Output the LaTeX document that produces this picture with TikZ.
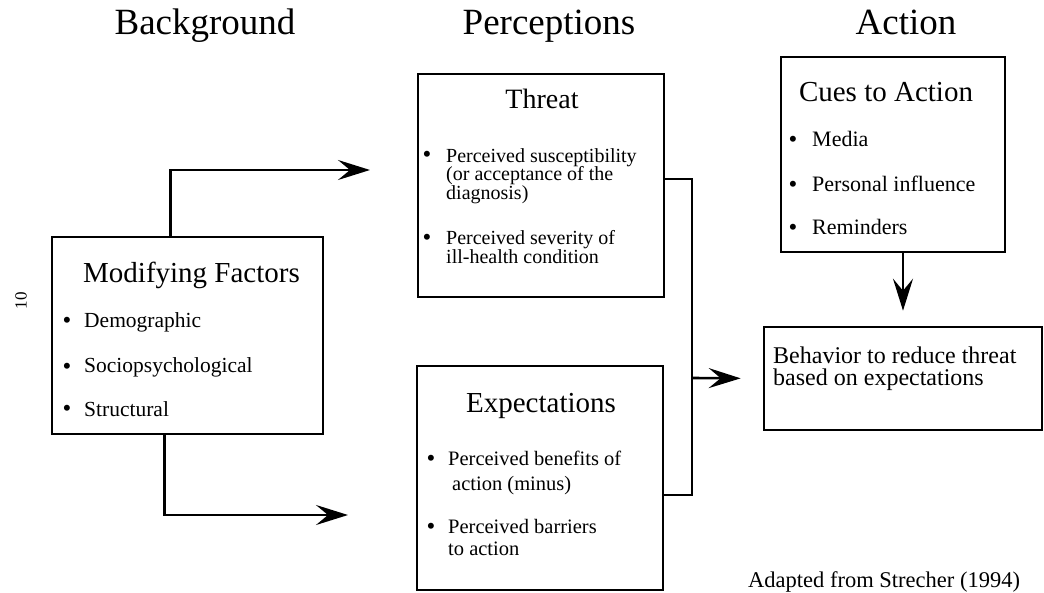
\documentclass[tikz,border=0pt]{standalone}
\usepackage{fontspec}
\setmainfont{Liberation Serif}
\usetikzlibrary{arrows.meta,calc}
\tikzset{
  box/.style={draw, line width=2.6pt, rectangle, inner sep=0pt},
  conn/.style={line width=2.6pt},
  arr/.style={conn, -{Stealth[length=32pt,width=20pt,inset=12pt]}},
  coltitle/.style={inner sep=0pt, anchor=base, font=\fontsize{37}{40}\selectfont},
  boxtitle/.style={inner sep=0pt, anchor=base, font=\fontsize{29}{32}\selectfont},
  bul/.style={inner sep=0pt, anchor=base, font=\fontsize{25}{25}\selectfont},
  btxt/.style={inner sep=0pt, anchor=base west, font=\fontsize{#1}{#1}\selectfont},
  btxt/.default=20.5,
}
\begin{document}
\begin{tikzpicture}[x=1pt,y=-1pt]
\useasboundingbox (0,0) rectangle (1044,593);
\fill[white] (0,0) rectangle (1044,593);

% column titles
\node[coltitle] (hbg) at (205,35) {Background};
\node[coltitle] (hpc) at (549,35) {Perceptions};
\node[coltitle] (hac) at (906,35) {Action};

% page number
\node[inner sep=0pt, rotate=90, font=\fontsize{17}{17}\selectfont] (pg) at (21,301) {10};

% boxes
\node[box, minimum width=271pt, minimum height=197pt] (mod) at (187.5,335.5) {};
\node[box, minimum width=246pt, minimum height=223pt] (thr) at (541,185.5) {};
\node[box, minimum width=246pt, minimum height=224pt] (exp) at (540,478) {};
\node[box, minimum width=224pt, minimum height=195pt] (cue) at (893,154.5) {};
\node[box, minimum width=278pt, minimum height=103pt] (beh) at (903,378.5) {};

% Modifying factors
\node[boxtitle] (modt) at (191.5,283) {Modifying Factors};
\node[bul] (mb1) at (67,329) {•};
\node[btxt=21.5] (m1) at (84,328) {Demographic};
\node[bul] (mb2) at (67,374) {•};
\node[btxt=21.5] (m2) at (84,373) {Sociopsychological};
\node[bul] (mb3) at (67,417) {•};
\node[btxt=21.5] (m3) at (84,416) {Structural};

% Threat
\node[boxtitle, font=\fontsize{28}{30}\selectfont] (thrt) at (542,109) {Threat};
\node[bul] (tb1) at (427,163) {•};
\node[btxt=20] (t1a) at (446,162.5) {Perceived susceptibility};
\node[btxt=20] (t1b) at (446,181) {(or acceptance of the};
\node[btxt=20] (t1c) at (446,199.5) {diagnosis)};
\node[bul] (tb2) at (427,246) {•};
\node[btxt=20] (t2a) at (446,245) {Perceived severity of};
\node[btxt=20] (t2b) at (446,263.5) {ill-health condition};

% Expectations
\node[boxtitle] (expt) at (541,413) {Expectations};
\node[bul] (eb1) at (431,466) {•};
\node[btxt] (e1a) at (448,465) {Perceived benefits of};
\node[btxt] (e1b) at (452,490) {action (minus)};
\node[bul] (eb2) at (431,534) {•};
\node[btxt] (e2a) at (448,533) {Perceived barriers};
\node[btxt] (e2b) at (448,555) {to action};

% Cues to action
\node[boxtitle] (cuet) at (886,102) {Cues to Action};
\node[bul] (cb1) at (793,148) {•};
\node[btxt=22] (c1) at (812,147) {Media};
\node[bul] (cb2) at (793,193) {•};
\node[btxt=22] (c2) at (812,192) {Personal influence};
\node[bul] (cb3) at (793,236) {•};
\node[btxt=22] (c3) at (812,235) {Reminders};

% Behavior
\node[btxt=24] (b1) at (773,363) {Behavior to reduce threat};
\node[btxt=24] (b2) at (773,386) {based on expectations};

% source
\node[btxt=22.5] (src) at (748,587) {Adapted from Strecher (1994)};

% connectors
\coordinate (up) at (370,170);
\coordinate (lo) at (348,515);
\coordinate (j) at (692,378);
\draw[arr] ([xshift=120pt]mod.north west) |- (up);
\draw[arr] ([xshift=114pt]mod.south west) |- (lo);
\draw[conn] ([yshift=6.5pt]thr.east) -| (j) |- ([yshift=-17pt]exp.east);
\draw[arr, shorten >=22pt] (j) -- (beh.west);
\draw[arr, shorten >=15pt] (beh.north |- cue.south) -- (beh.north);
\end{tikzpicture}
\end{document}
